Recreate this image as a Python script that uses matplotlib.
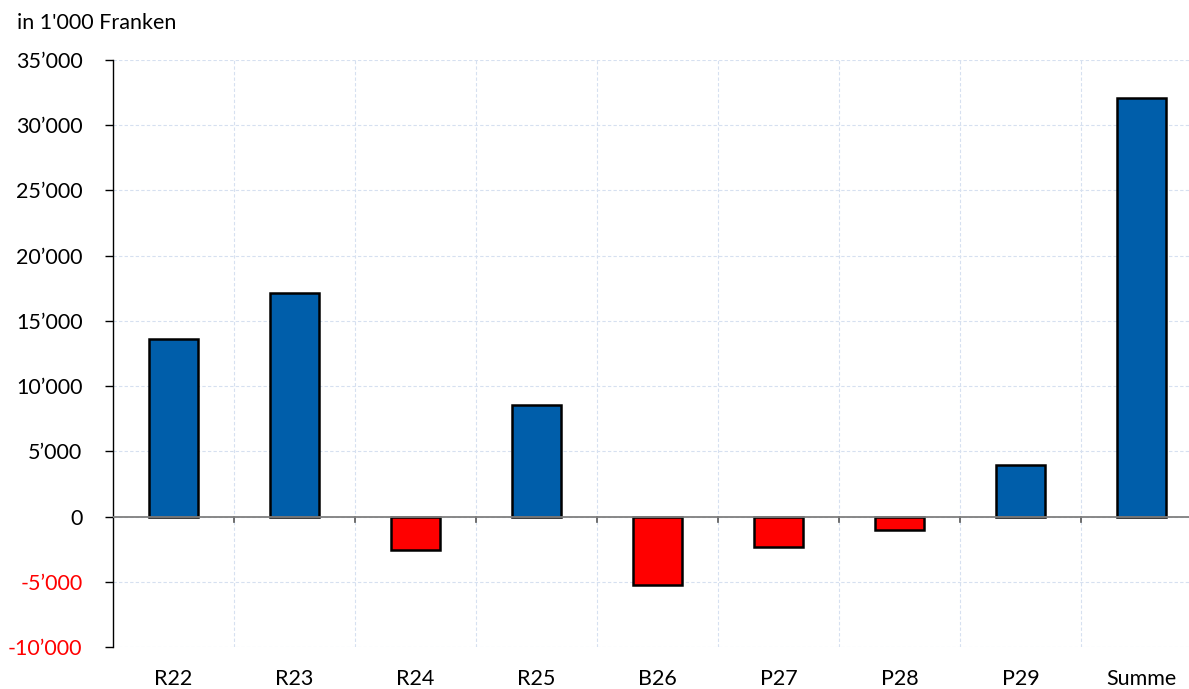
import matplotlib
matplotlib.use("Agg")
import matplotlib.pyplot as plt
import numpy as np

categories = ["R22", "R23", "R24", "R25", "B26", "P27", "P28", "P29", "Summe"]
values = [13630, 17150, -2530, 8580, -5280, -2300, -1000, 3980, 32080]
yticks = [-10000, -5000, 0, 5000, 10000, 15000, 20000, 25000, 30000, 35000]

plt.rcParams['font.family'] = ['Lato', 'DejaVu Sans']

W, H = 1189, 689
fig = plt.figure(figsize=(W/100, H/100), dpi=100)
left, right = 113/W, 1202/W
bottom, top = 1 - 647/H, 1 - 60/H
ax = fig.add_axes([left, bottom, right-left, top-bottom])

x = np.arange(len(categories))
colors = ["#005EAA" if v >= 0 else "#FF0000" for v in values]
ax.bar(x, values, width=0.4, color=colors, edgecolor="black", linewidth=1.8, zorder=3)

ax.set_xlim(-0.5, len(categories) - 0.5)
ax.set_ylim(-10000, 35000)
ax.set_yticks(yticks)
def fmt(v):
    s = f"{abs(v):,}".replace(",", "\u2019")
    return ("-" if v < 0 else "") + s
ax.set_yticklabels([fmt(v) for v in yticks], fontsize=15.5)
for lbl, v in zip(ax.get_yticklabels(), yticks):
    lbl.set_color("#FF0000" if v < 0 else "black")

ax.set_xticks(x)
ax.set_xticklabels(categories, fontsize=15.5)
ax.tick_params(axis='x', length=0, pad=16)
ax.tick_params(axis='y', length=6, width=1, pad=16, direction='out')

# gridlines
for v in yticks:
    ax.axhline(v, color="#D6E0F0", linestyle=(0, (3, 2)), linewidth=0.8, zorder=0)
for b in np.arange(0.5, len(categories) - 0.5, 1):
    ax.axvline(b, color="#D6E0F0", linestyle=(0, (3, 2)), linewidth=0.8, zorder=0)
    ax.plot([b, b], [0, -420], color="#555555", linewidth=1.2, zorder=4, clip_on=False)

ax.axhline(0, color="#7F7F7F", linewidth=1.3, zorder=4)

for s in ["top", "right", "bottom"]:
    ax.spines[s].set_visible(False)
ax.spines["left"].set_color("black")
ax.spines["left"].set_linewidth(1.0)

fig.text(17/W, 1 - 23/H, "in 1'000 Franken", fontsize=15.5, va="center", ha="left")

fig.savefig("out.png", dpi=100)
